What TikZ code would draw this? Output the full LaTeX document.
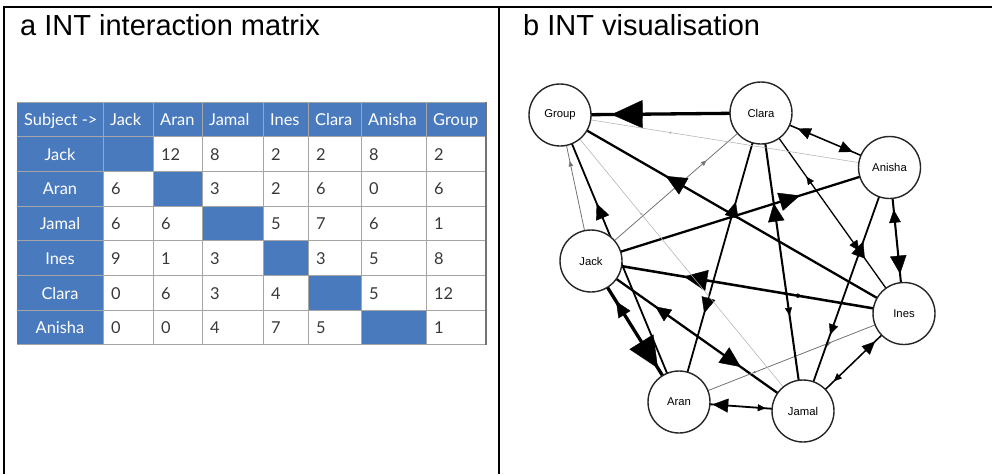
\documentclass[tikz,border=0pt]{standalone}
\usepackage{fontspec}
\setmainfont{Liberation Sans}
\newfontfamily\cellfont{Lato}
\usepackage{tikz}
\usetikzlibrary{arrows.meta,decorations.markings,backgrounds,positioning}

\definecolor{cellblue}{RGB}{74,122,190}
\definecolor{gridgray}{RGB}{165,165,165}

\tikzset{
  panel/.style={line width=2pt},
  heading/.style={anchor=base west, inner sep=0pt, font=\fontsize{29}{30}\selectfont},
  hdr/.style={anchor=base west, inner sep=0pt, text=white, font=\cellfont\fontsize{16.4}{18}\selectfont},
  rowlab/.style={anchor=base, inner sep=0pt, text=white, font=\cellfont\fontsize{16.4}{18}\selectfont},
  val/.style={anchor=base west, inner sep=0pt, text=black!78, font=\cellfont\fontsize{16.4}{18}\selectfont},
  member/.style={circle, draw=black!85, line width=1.4pt, fill=white, minimum size=62pt,
    inner sep=0pt, font=\fontsize{11.3}{12}\selectfont},
}

% arrowhead of size #3 at two thirds of the way from #1 to #2
\newcommand{\headat}[3]{%
  \pgfmathsetmacro\hwid{0.9*#3}%
  \pgfmathsetmacro\hoff{0.5*#3}%
  \path[color=black!\tgrey, postaction={decorate}, decoration={markings,
    mark=at position 0.6667 with {\arrow[xshift=\hoff pt]{Triangle[length=#3pt, width=\hwid pt]}}}]
    (#1.center) -- (#2.center);
}
% link between #1 and #2, weights #3 (#1 to #2) and #4 (#2 to #1)
\newcommand{\tie}[4]{%
  \pgfmathsetmacro\tmax{max(#3,#4)}%
  \pgfmathsetmacro\twd{0.3+0.25*\tmax}%
  \pgfmathtruncatemacro\tgrey{\tmax>2 ? 100 : (\tmax>1 ? 55 : 30)}%
  \pgfmathsetmacro\tfwd{2.6*#3}%
  \pgfmathsetmacro\tbck{2.6*#4}%
  \draw[line width=\twd pt, draw=black!\tgrey] (#1.center) -- (#2.center);
  \ifnum#3>0 \headat{#1}{#2}{\tfwd}\fi
  \ifnum#4>0 \headat{#2}{#1}{\tbck}\fi
}

\def\colx{{17,103,153,202,263,308,361,426,486}}

\begin{document}
\begin{tikzpicture}[x=1pt,y=-1pt]
  \useasboundingbox (0,0) rectangle (992,474);

  % frame
  \draw[panel] (992,7) -- (4,7) -- (4,474);
  \draw[panel] (499,7) -- (499,474);

  \node[heading] (ta) at (20,35) {a INT interaction matrix};
  \node[heading] (tb) at (523,35) {b INT visualisation};

  % matrix: blue header row, first column and diagonal
  \fill[cellblue] (17,102) rectangle (486,136.7);
  \fill[cellblue] (17,136.7) rectangle (103,345);
  \foreach \r in {1,...,6} {
    \pgfmathsetmacro\xa{\colx[\r]}
    \pgfmathsetmacro\xb{\colx[\r+1]}
    \fill[cellblue] (\xa,102+34.7*\r) rectangle (\xb,102+34.7*\r+34.7);
  }
  \foreach \r in {0,...,7}
    \draw[gridgray, line width=1pt] (17,102+34.7*\r) -- (486,102+34.7*\r);
  \foreach \c in {1,...,7} {
    \pgfmathsetmacro\xa{\colx[\c]}
    \draw[gridgray, line width=1pt] (\xa,102) -- (\xa,345);
  }
  \draw[black!55, line width=1.3pt] (486,102) -- (486,345);

  \foreach \t [count=\c from 0] in {Subject ->,Jack,Aran,Jamal,Ines,Clara,Anisha,Group} {
    \pgfmathsetmacro\xa{\colx[\c]}
    \node[hdr] (h\c) at (\xa+7,125.5) {\t};
  }
  \foreach \who/\vals [count=\r] in {Jack/{-,12,8,2,2,8,2},Aran/{6,-,3,2,6,0,6},
      Jamal/{6,6,-,5,7,6,1},Ines/{9,1,3,-,3,5,8},Clara/{0,6,3,4,-,5,12},Anisha/{0,0,4,7,5,-,1}} {
    \node[rowlab] (row\r) at (60,102+34.7*\r+23.5) {\who};
    \foreach \v [count=\c] in \vals {
      \pgfmathsetmacro\xa{\colx[\c]}
      \ifnum\c=\r\else
        \node[val] (v\r\c) at (\xa+8,102+34.7*\r+23.5) {\v};
      \fi
    }
  }

  % network
  \node[member] (group) at (560,115) {Group};
  \node[member] (clara) at (761,113) {Clara};
  \node[member] (anisha) at (889.5,167.5) {Anisha};
  \node[member] (jack) at (591,261) {Jack};
  \node[member] (ines) at (904,313.5) {Ines};
  \node[member] (aran) at (679,402) {Aran};
  \node[member] (jamal) at (803,411) {Jamal};

  \begin{scope}[on background layer]
    \tie{jack}{aran}{12}{6}
    \tie{jack}{jamal}{8}{6}
    \tie{jack}{ines}{2}{9}
    \tie{jack}{clara}{2}{0}
    \tie{jack}{anisha}{8}{0}
    \tie{jack}{group}{2}{0}
    \tie{aran}{jamal}{3}{6}
    \tie{aran}{ines}{2}{1}
    \tie{aran}{clara}{6}{6}
    \tie{aran}{group}{6}{0}
    \tie{jamal}{ines}{5}{3}
    \tie{jamal}{clara}{7}{3}
    \tie{jamal}{anisha}{6}{4}
    \tie{jamal}{group}{1}{0}
    \tie{ines}{clara}{3}{4}
    \tie{ines}{anisha}{5}{7}
    \tie{ines}{group}{8}{0}
    \tie{clara}{anisha}{5}{5}
    \tie{clara}{group}{12}{0}
    \tie{anisha}{group}{1}{0}
  \end{scope}
\end{tikzpicture}
\end{document}
